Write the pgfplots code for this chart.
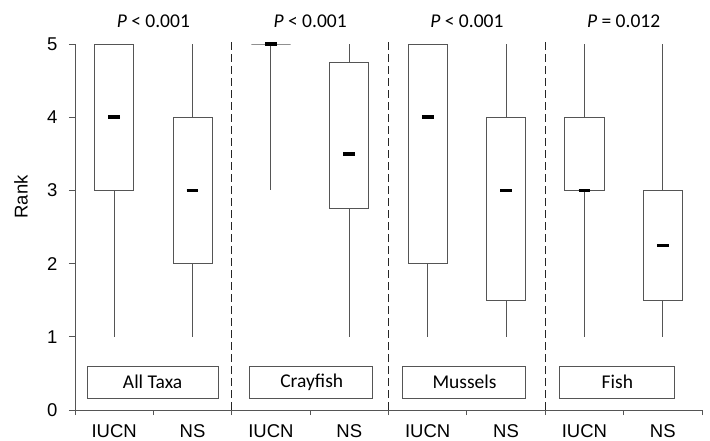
\documentclass[border=0pt]{standalone}
\usepackage{pgfplots}
\pgfplotsset{compat=1.18}
\usepgfplotslibrary{statistics}
\usepackage{fontspec}
\setmainfont{Liberation Sans}
\newfontfamily\calibri{Carlito}
\definecolor{ln}{RGB}{85,85,85}

\begin{document}
\begin{tikzpicture}
\begin{axis}[
  scale only axis, width=627bp, height=366bp,
  xmin=0, xmax=8, ymin=0, ymax=5,
  axis x line*=bottom, axis y line*=left,
  axis line style={ln, line width=0.9pt, -},
  clip=false,
  ytick={0,...,5},
  xtick={0.5,1.5,...,7.5},
  xticklabels={IUCN,NS,IUCN,NS,IUCN,NS,IUCN,NS},
  minor xtick={0,...,8},
  tick align=outside,
  major tick length=6bp, minor tick length=5bp,
  major x tick style={draw=none},
  minor x tick style={ln, line width=0.9pt},
  y tick style={ln, line width=0.9pt},
  ticklabel style={font=\fontsize{18.5bp}{20bp}\selectfont},
  yticklabel style={xshift=-8bp},
  xticklabel style={yshift=-5bp},
  /pgf/number format/assume math mode=true,
  boxplot/draw direction=y,
  boxplot/whisker extend=0,
  boxplot/box extend=0.5,
  boxplot/draw/median/.code={%
    \draw[black, line width=3.4bp]
      (boxplot box cs:\pgfplotsboxplotvalue{median},0.35) --
      (boxplot box cs:\pgfplotsboxplotvalue{median},0.65);},
  bx/.style={ln, fill=white, line width=0.9pt, solid},
]
% All Taxa
\addplot[bx, boxplot prepared={draw position=0.5, lower whisker=1, lower quartile=3, median=4, upper quartile=5, upper whisker=5}] coordinates {};
\addplot[bx, boxplot prepared={draw position=1.5, lower whisker=1, lower quartile=2, median=3, upper quartile=4, upper whisker=5}] coordinates {};
% Crayfish
\addplot[bx, boxplot prepared={draw position=2.5, lower whisker=3, lower quartile=5, median=5, upper quartile=5, upper whisker=5}] coordinates {};
\addplot[bx, boxplot prepared={draw position=3.5, lower whisker=1, lower quartile=2.75, median=3.5, upper quartile=4.75, upper whisker=5}] coordinates {};
% Mussels
\addplot[bx, boxplot prepared={draw position=4.5, lower whisker=1, lower quartile=2, median=4, upper quartile=5, upper whisker=5}] coordinates {};
\addplot[bx, boxplot prepared={draw position=5.5, lower whisker=1, lower quartile=1.5, median=3, upper quartile=4, upper whisker=5}] coordinates {};
% Fish
\addplot[bx, boxplot prepared={draw position=6.5, lower whisker=1, lower quartile=3, median=3, upper quartile=4, upper whisker=5}] coordinates {};
\addplot[bx, boxplot prepared={draw position=7.5, lower whisker=1, lower quartile=1.5, median=2.25, upper quartile=3, upper whisker=5}] coordinates {};

% group separators
\draw[black!85, line width=1.1pt, dash pattern=on 8bp off 4bp] (axis cs:2,0) -- (axis cs:2,5.03);
\draw[black!85, line width=1.1pt, dash pattern=on 8bp off 4bp] (axis cs:4,0) -- (axis cs:4,5.03);
\draw[black!85, line width=1.1pt, dash pattern=on 8bp off 4bp] (axis cs:6,0) -- (axis cs:6,5.03);

% group labels
\draw[ln, line width=0.9pt, fill=white] (axis cs:0.153,0.164) rectangle (axis cs:1.824,0.601);
\draw[ln, line width=0.9pt, fill=white] (axis cs:2.232,0.164) rectangle (axis cs:3.801,0.601);
\draw[ln, line width=0.9pt, fill=white] (axis cs:4.184,0.164) rectangle (axis cs:5.753,0.601);
\draw[ln, line width=0.9pt, fill=white] (axis cs:6.186,0.164) rectangle (axis cs:7.653,0.601);
\begin{scope}[every node/.style={font=\calibri\fontsize{19.5bp}{21bp}\selectfont}]
\node at (axis cs:0.99,0.383) {All Taxa};
\node at (axis cs:3.02,0.383) {Crayfish};
\node at (axis cs:4.97,0.383) {Mussels};
\node at (axis cs:6.92,0.383) {Fish};
\end{scope}

% P values
\begin{scope}[every node/.style={anchor=base, font=\calibri\fontsize{19.5bp}{21bp}\selectfont}]
\node at (axis cs:1,5.23) {\textit{P} < 0.001};
\node at (axis cs:3,5.23) {\textit{P} < 0.001};
\node at (axis cs:5,5.23) {\textit{P} < 0.001};
\node at (axis cs:7,5.23) {\textit{P} = 0.012};
\end{scope}

\node[rotate=90, font=\fontsize{18.5bp}{20bp}\selectfont] at ([xshift=-54bp]axis cs:0,2.91) {Rank};

\coordinate (O) at (axis cs:0,0);
\coordinate (T) at (axis cs:8,5);
\end{axis}
\pgfresetboundingbox
\path ([shift={(-75bp,-30bp)}]O) rectangle ([shift={(8bp,44bp)}]T);
\end{tikzpicture}
\end{document}
